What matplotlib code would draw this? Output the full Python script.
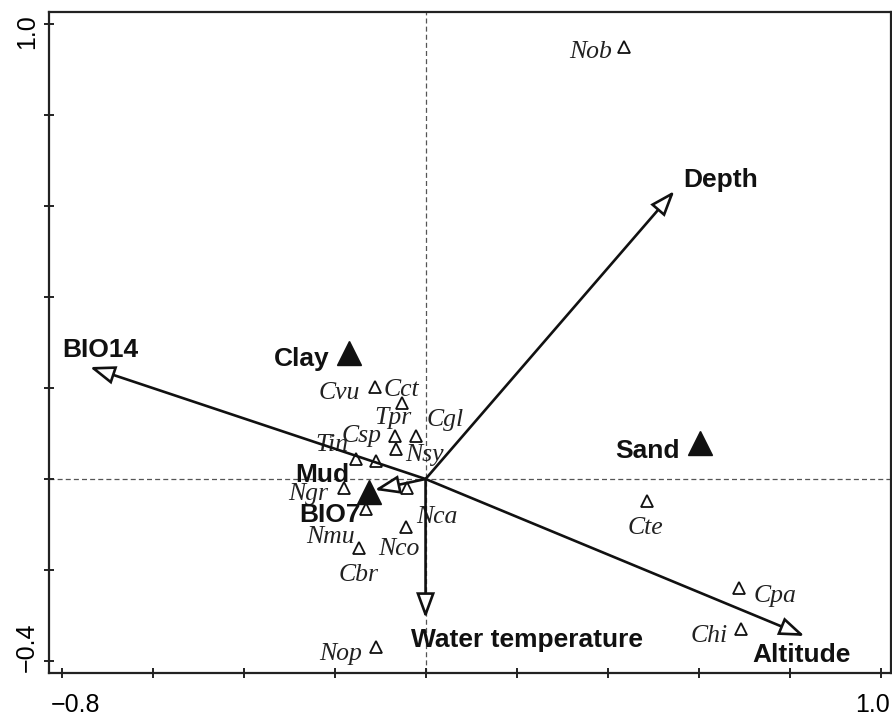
import numpy as np
import matplotlib
matplotlib.use("Agg")
import matplotlib.pyplot as plt
import matplotlib.transforms as mtransforms
from matplotlib.patches import FancyArrowPatch

# ---- data -------------------------------------------------------------
species = ["Nob", "Cvu", "Cct", "Tpr", "Cgl", "Nsy", "Tin", "Csp", "Ngr",
           "Nca", "Nmu", "Nco", "Cbr", "Nop", "Cte", "Cpa", "Chi"]
species_x = [0.437, -0.112, -0.051, -0.068, -0.020, -0.064, -0.152, -0.108, -0.180,
             -0.040, -0.132, -0.044, -0.147, -0.110, 0.486, 0.690, 0.694]
species_y = [0.949, 0.202, 0.167, 0.095, 0.095, 0.066, 0.044, 0.040, -0.020,
             -0.020, -0.066, -0.105, -0.152, -0.369, -0.048, -0.240, -0.330]

env_vars = ["Depth", "BIO14", "Altitude", "Water temperature", "BIO7"]
env_x = [0.547, -0.738, 0.833, 0.0, -0.112]
env_y = [0.633, 0.246, -0.345, -0.306, -0.024]

nominal = ["Clay", "Sand", "Mud"]
nominal_x = [-0.169, 0.604, -0.125]
nominal_y = [0.277, 0.079, -0.029]

xticks = [-0.8, -0.6, -0.4, -0.2, 0.0, 0.2, 0.4, 0.6, 0.8, 1.0]
xticklabels = ["\u22120.8", "", "", "", "", "", "", "", "", "1.0"]
yticks = [-0.4, -0.2, 0.0, 0.2, 0.4, 0.6, 0.8, 1.0]
yticklabels = ["\u22120.4", "", "", "", "", "", "", "1.0"]

# ---- layout (label offsets in pixels) ---------------------------------
species_off = [(-34, -5), (-35, -6), (-1, 13), (-2, 18), (29, 16), (28, -6),
               (-25, 14), (-15, 25), (-35, -6), (30, -29), (-35, -28), (-7, -22),
               (0, -27), (-35, -7), (-1, -27), (36, -8), (-32, -7)]
env_off = [(46, 11), (11, 17), (-3, -19), (101, -22), (-45, -25)]
nominal_off = [(-47, -6), (-53, -8), (-46, 17)]

DPI = 100
fig = plt.figure(figsize=(8.92, 7.18), dpi=DPI)
ax = fig.add_axes([49.3 / 892, 1 - 673.3 / 718, (891 - 49.3) / 892, (673.3 - 11.7) / 718])
ax.set_xlim(-0.827, 1.023)
ax.set_ylim(-0.427, 1.027)

for s in ax.spines.values():
    s.set_linewidth(1.6)
    s.set_color("#222")

ax.axhline(0, color="#555", lw=0.9, ls=(0, (4, 2.5)), zorder=1)
ax.axvline(0, color="#555", lw=0.9, ls=(0, (4, 2.5)), zorder=1)

serif = "Liberation Serif"
sans = "Liberation Sans"

# species
ax.plot(species_x, species_y, ls="none", marker="^", ms=9, mfc="white",
        mec="#111", mew=1.3, zorder=3)
for name, x, y, (dx, dy) in zip(species, species_x, species_y, species_off):
    ax.annotate(name, (x, y), xytext=(dx, dy), textcoords="offset pixels",
                ha="center", va="center", fontsize=18.5, family=serif,
                style="italic", color="#222", zorder=2)

# environmental arrows
for name, x, y, (dx, dy) in zip(env_vars, env_x, env_y, env_off):
    arr = FancyArrowPatch((0, 0), (x, y),
                          arrowstyle="-|>,head_length=15,head_width=5.5",
                          mutation_scale=1, lw=1.9, ec="#111", fc="white",
                          shrinkA=0, shrinkB=0, joinstyle="miter", zorder=4)
    ax.add_patch(arr)
    ax.annotate(name, (x, y), xytext=(dx, dy), textcoords="offset pixels",
                ha="center", va="center", fontsize=19, family=sans,
                weight="bold", color="#111", zorder=5)

# nominal variables
ax.plot(nominal_x, nominal_y, ls="none", marker="^", ms=17, mfc="#111",
        mec="#111", zorder=5)
for name, x, y, (dx, dy) in zip(nominal, nominal_x, nominal_y, nominal_off):
    ax.annotate(name, (x, y), xytext=(dx, dy), textcoords="offset pixels",
                ha="center", va="center", fontsize=19, family=sans,
                weight="bold", color="#111", zorder=5)

# ticks
ax.set_xticks(xticks)
ax.set_xticklabels(xticklabels, fontsize=18, family=sans)
ax.set_yticks(yticks)
ax.set_yticklabels(yticklabels, fontsize=18, family=sans, rotation=90, va="center")
ax.tick_params(direction="inout", length=7, width=1.4, color="#222")
ax.tick_params(axis="x", pad=11)
ax.tick_params(axis="y", pad=4)

def shift(label, dx, dy):
    label.set_transform(label.get_transform() +
                        mtransforms.ScaledTranslation(dx / DPI, dy / DPI, fig.dpi_scale_trans))

xl = ax.get_xticklabels()
shift(xl[0], 14, 0)
shift(xl[-1], -8, 0)
yl = ax.get_yticklabels()
shift(yl[0], 0, 14)
shift(yl[-1], 0, -8)

fig.savefig("out.png", dpi=DPI)
